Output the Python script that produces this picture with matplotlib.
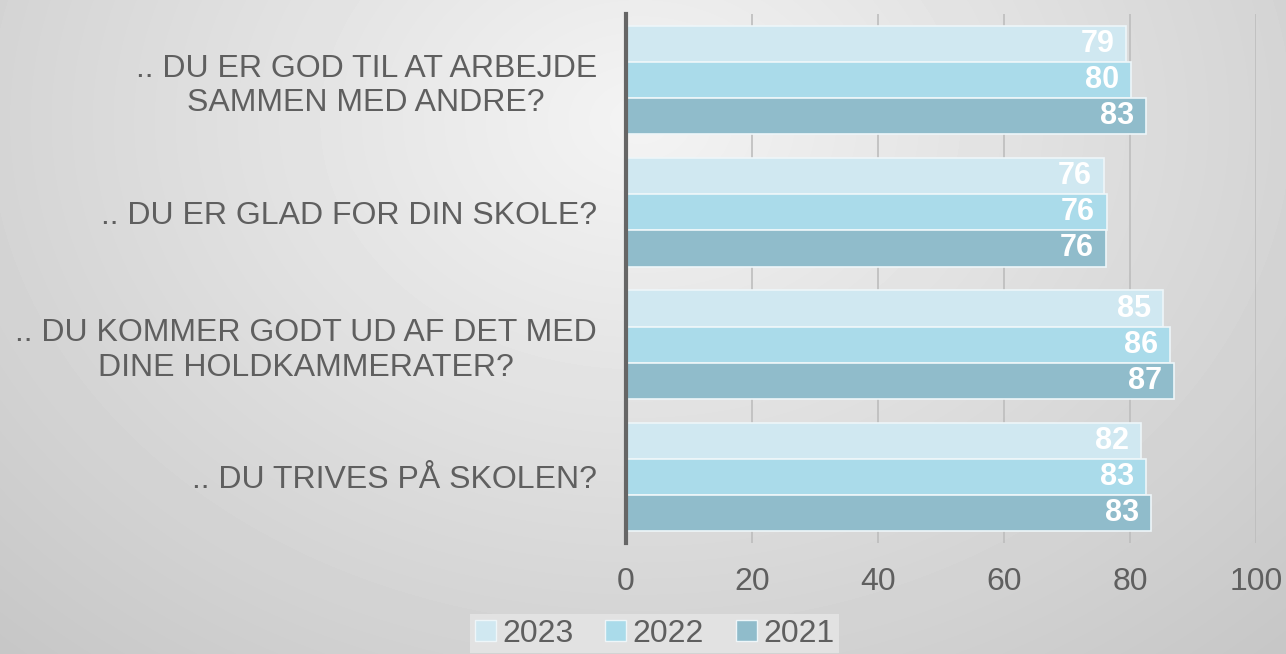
import numpy as np
import matplotlib.pyplot as plt
from matplotlib.patches import Patch

plt.rcParams['font.family'] = ['Liberation Sans', 'DejaVu Sans']

# data (top to bottom in chart)
questions = ['.. DU ER GOD TIL AT ARBEJDE\nSAMMEN MED ANDRE?',
             '.. DU ER GLAD FOR DIN SKOLE?',
             '.. DU KOMMER GODT UD AF DET MED\nDINE HOLDKAMMERATER?',
             '.. DU TRIVES PÅ SKOLEN?']
years = ['2023', '2022', '2021']
vals_2023 = [79.4, 75.9, 85.2, 81.7]
vals_2022 = [80.2, 76.3, 86.3, 82.6]
vals_2021 = [82.6, 76.2, 87.0, 83.3]
colors = ['#d0e8f1', '#aadbea', '#90bccb']

txt = '#5f5f5f'

fig = plt.figure(figsize=(12.86, 6.54), dpi=100)

# background gradient
bg = fig.add_axes([0, 0, 1, 1], zorder=-10)
h, w = 654, 1286
yy, xx = np.mgrid[0:h, 0:w]
r = np.sqrt(((xx - 640) / 900.0) ** 2 + ((yy - 120) / 700.0) ** 2)
shade = 0.955 - 0.17 * r
bg.imshow(shade, cmap='gray', vmin=0, vmax=1, aspect='auto', interpolation='bilinear')
bg.axis('off')

ax = fig.add_axes([0.4868, 0.1697, 0.4899, 0.8089])
ax.patch.set_alpha(0)

n = len(questions)
pos = np.arange(n)
bh = 0.273
series = [vals_2023, vals_2022, vals_2021]
for i, (vals, c, yr) in enumerate(zip(series, colors, years)):
    y = pos + (i - 1) * bh
    bars = ax.barh(y, vals, height=bh, color=c, edgecolor='#eef6f9', linewidth=1.2, label=yr, zorder=3)
    for b, v in zip(bars, vals):
        ax.text(b.get_width() - 1.9, b.get_y() + b.get_height() / 2, f'{round(v):d}',
                ha='right', va='center', color='white', fontsize=22, fontweight='bold', zorder=4)

ax.set_ylim(n - 0.5, -0.5)
ax.set_xlim(0, 100)
ax.set_xticks([0, 20, 40, 60, 80, 100])
ax.set_yticks(pos)
ax.set_yticklabels(questions, multialignment='center')
ax.tick_params(axis='y', length=0, pad=21, labelsize=23, labelcolor=txt)
ax.tick_params(axis='x', length=0, pad=17, labelsize=23, labelcolor=txt)
ax.grid(axis='x', color='#bdbdbd', linewidth=1.2, zorder=0)
for s in ['top', 'right', 'bottom']:
    ax.spines[s].set_visible(False)
ax.spines['left'].set_color('#666666')
ax.spines['left'].set_linewidth(3)
ax.spines['left'].set_zorder(5)

handles = [Patch(facecolor=c, edgecolor='#eef6f9', label=yr) for c, yr in zip(colors, years)]
leg = fig.legend(handles=handles, loc='upper center', bbox_to_anchor=(0.509, 0.086), ncol=3,
                 frameon=True, fontsize=23, handlelength=0.65, handleheight=0.65,
                 handletextpad=0.2, columnspacing=1.0, borderpad=0.15, fancybox=False)
leg.get_frame().set_facecolor('#e2e2e2')
leg.get_frame().set_edgecolor('none')
leg.get_frame().set_alpha(1)
for t in leg.get_texts():
    t.set_color(txt)

fig.savefig('out.png', dpi=100)
